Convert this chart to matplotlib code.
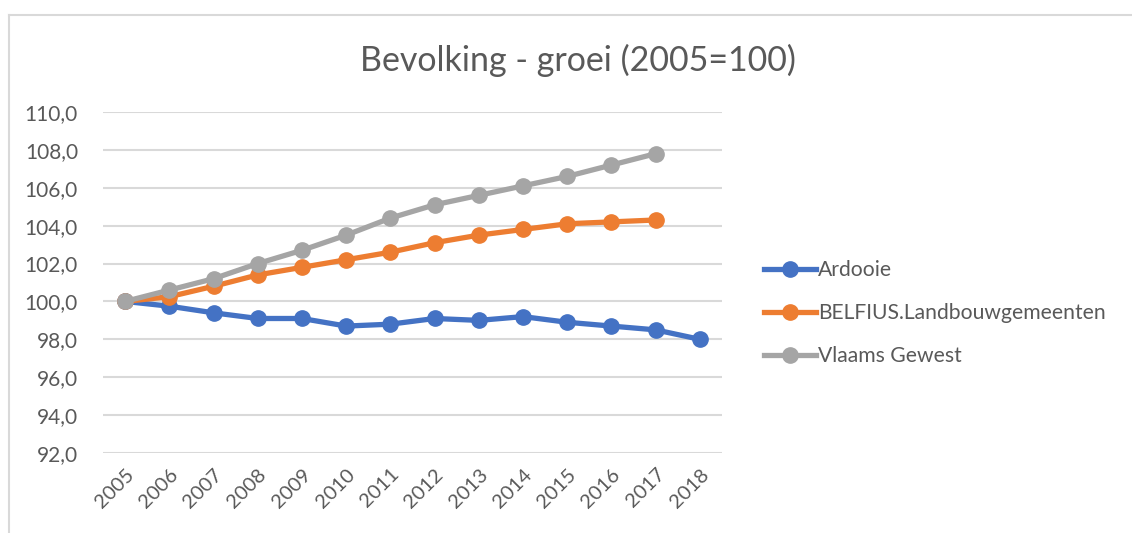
import matplotlib.pyplot as plt
from matplotlib.lines import Line2D

years = [str(y) for y in range(2005, 2019)]
ardooie = [100.0, 99.75, 99.4, 99.1, 99.1, 98.7, 98.8, 99.1, 99.0, 99.2, 98.9, 98.7, 98.5, 98.0]
belfius = [100.0, 100.25, 100.8, 101.4, 101.8, 102.2, 102.6, 103.1, 103.5, 103.8, 104.1, 104.2, 104.3]
vlaams = [100.0, 100.6, 101.2, 102.0, 102.7, 103.5, 104.4, 105.1, 105.6, 106.1, 106.6, 107.2, 107.8]
yticks = [92, 94, 96, 98, 100, 102, 104, 106, 108, 110]

W, H = 1132, 533
plt.rcParams['font.family'] = ['Lato', 'DejaVu Sans']
txt = '#595959'

fig = plt.figure(figsize=(W / 100, H / 100), dpi=100)
ax = fig.add_axes([103 / W, 1 - 453 / H, (722 - 103) / W, (453 - 112) / H])

series = [('Ardooie', ardooie, '#4472C4'),
          ('BELFIUS.Landbouwgemeenten', belfius, '#ED7D31'),
          ('Vlaams Gewest', vlaams, '#A5A5A5')]
for name, vals, col in series:
    ax.plot(range(len(vals)), vals, color=col, lw=3.8, marker='o', ms=11,
            solid_capstyle='round', label=name)

ax.set_xlim(-0.5, len(years) - 0.5)
ax.set_ylim(92, 110)
ax.set_yticks(yticks)
ax.set_yticklabels(['{:.1f}'.format(v).replace('.', ',') for v in yticks])
ax.set_xticks(range(len(years)))
ax.set_xticklabels(years, rotation=45, ha='right', rotation_mode='anchor')
ax.tick_params(length=0, colors=txt)
ax.tick_params(axis='y', pad=18, labelsize=15)
ax.tick_params(axis='x', pad=9, labelsize=14.5)
for s in ax.spines.values():
    s.set_visible(False)
ax.grid(axis='y', color='#D9D9D9', lw=1.5)
ax.set_axisbelow(True)

fig.text(578 / W, 1 - 60 / H, 'Bevolking - groei (2005=100)', ha='center', va='center',
         fontsize=24.5, color=txt)

handles = [Line2D([], [], color=c, lw=3.8, marker='o', ms=11) for _, _, c in series]
leg = fig.legend(handles, [n for n, _, _ in series], loc='upper left',
                 bbox_to_anchor=(745 / W, 1 - 241 / H), frameon=False, fontsize=15.2,
                 handlelength=2.45, handletextpad=0.1, labelspacing=1.1, labelcolor=txt)

fig.add_artist(Line2D([9 / W, 9 / W], [0, 1 - 15 / H], color='#D9D9D9', lw=1.5))
fig.add_artist(Line2D([9 / W, 1], [1 - 15 / H, 1 - 15 / H], color='#D9D9D9', lw=1.5))

fig.savefig('out.png', dpi=100)
